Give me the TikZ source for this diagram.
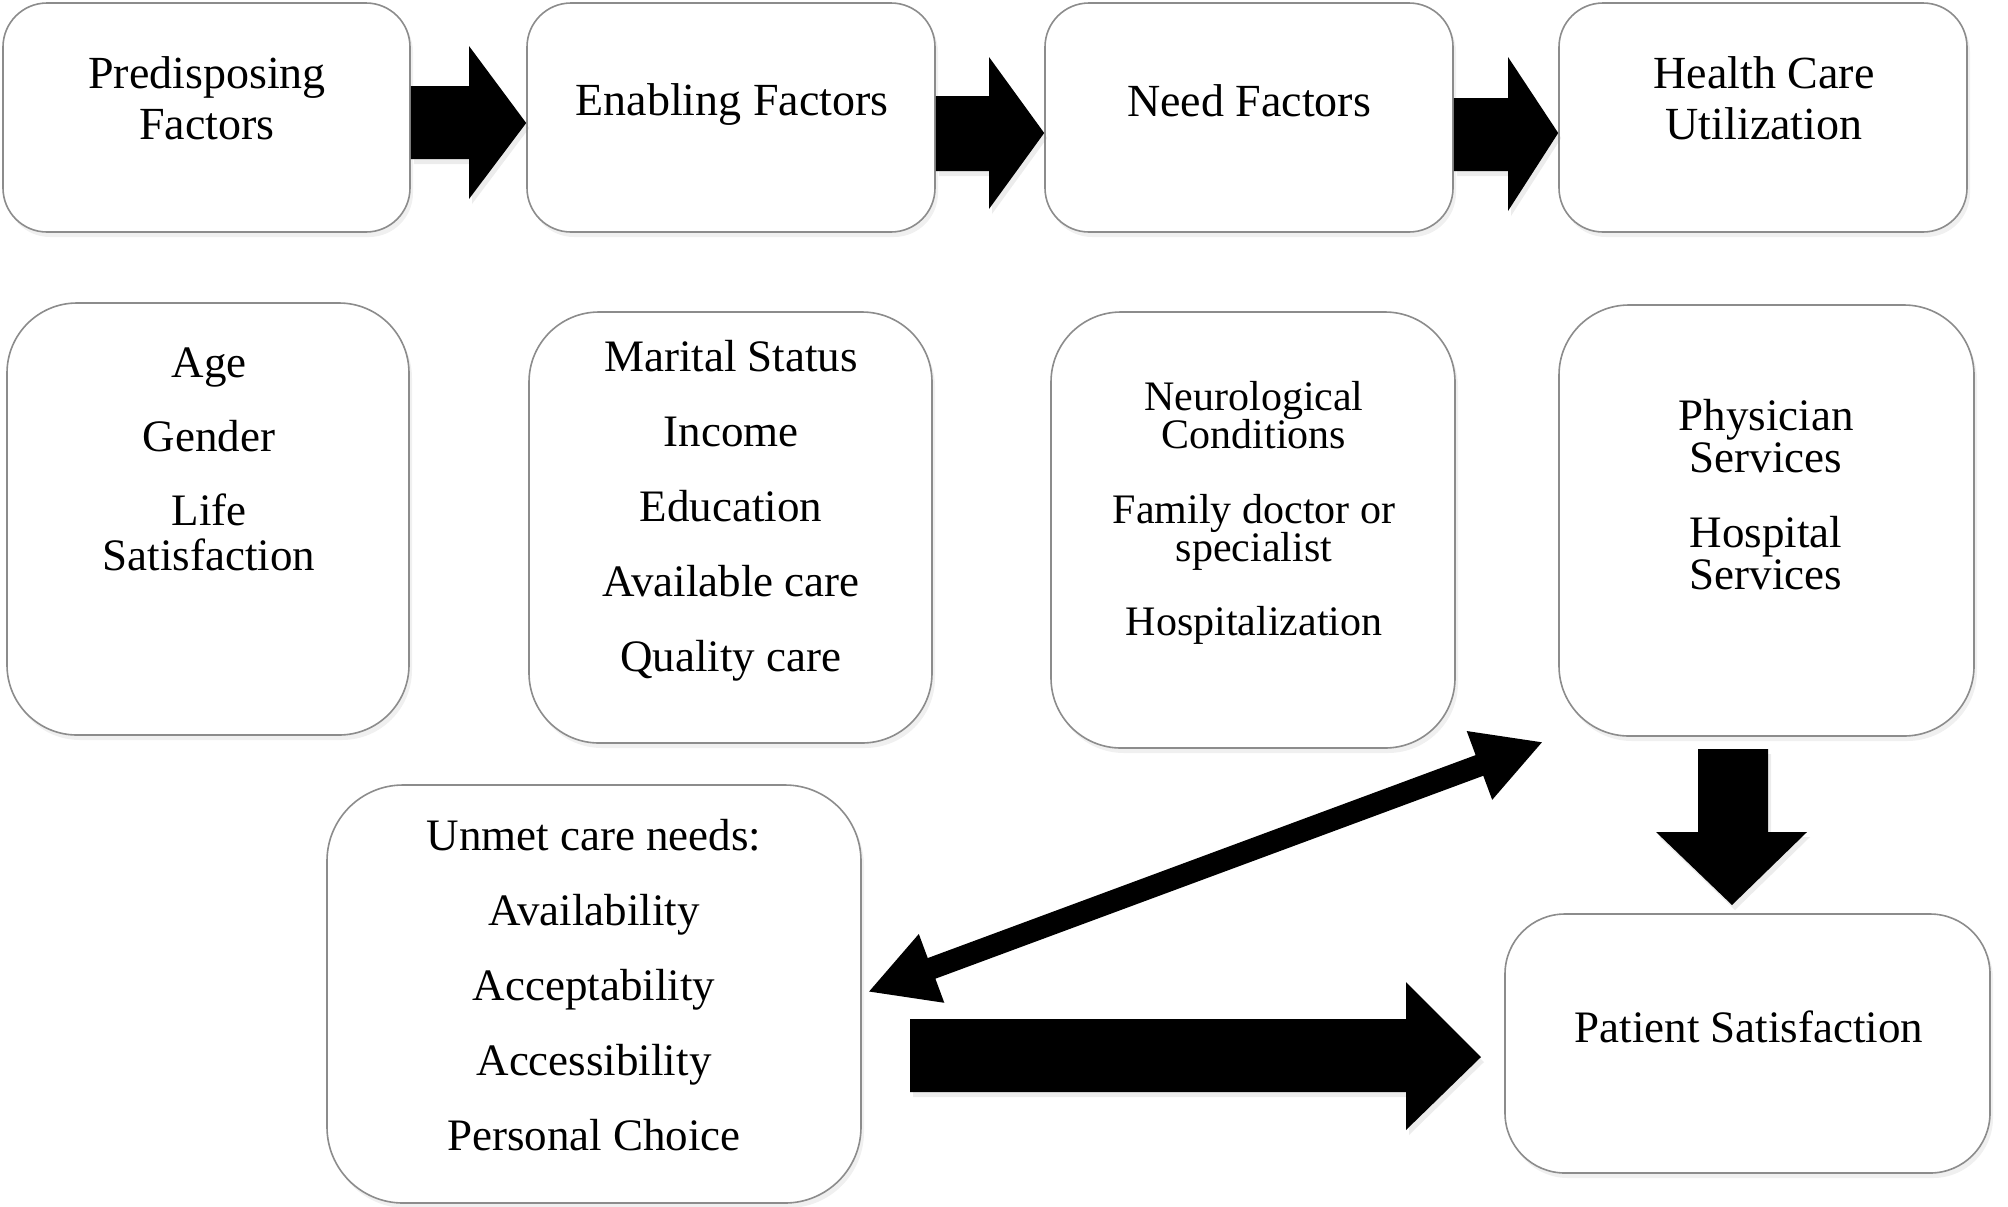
\documentclass[tikz,border=0pt]{standalone}
\usepackage{fontspec}
\setmainfont{Liberation Serif}
\usetikzlibrary{arrows.meta,shadows}
\setlength{\lineskiplimit}{-20pt}
\begin{document}
\begin{tikzpicture}[x=0.5pt,y=-0.5pt,
  box/.style={draw=black!45, line width=0.8pt, fill=white, rounded corners=#1,
    drop shadow={shadow xshift=1.5pt,shadow yshift=-2.5pt,opacity=0.12}},
  box/.default=22pt,
  lbltop/.style={anchor=north, inner sep=0pt, align=center, font=\fontsize{23pt}{25.5pt}\selectfont},
  lbl/.style={anchor=north, inner sep=0pt, align=center, font=\fontsize{22.5pt}{22.5pt}\selectfont},
  lbld/.style={anchor=north, inner sep=0pt, align=center, font=\fontsize{22.5pt}{21pt}\selectfont},
  lblsm/.style={anchor=north, inner sep=0pt, align=center, font=\fontsize{21pt}{19pt}\selectfont},
  blk/.style={fill=black, drop shadow={shadow xshift=1.5pt,shadow yshift=-2.5pt,opacity=0.15}},
  dbl/.style={{Triangle[length=34pt,width=34pt]}-{Triangle[length=34pt,width=34pt]}, line width=11pt}
]
\useasboundingbox (0,0) rectangle (2008,1206);

% top row
\node[box, minimum width=203.5pt, minimum height=114.5pt] (p1) at (206.5,117.5) {};
\node[box, minimum width=204pt, minimum height=114.5pt] (p2) at (731,117.5) {};
\node[box, minimum width=204pt, minimum height=114.5pt] (p3) at (1249,117.5) {};
\node[box, minimum width=204pt, minimum height=114.5pt] (p4) at (1763,117.5) {};
\node[lbltop] (p1t) at (207,56) {Predisposing\\Factors};
\node[lbltop] (p2t) at (732,83) {Enabling Factors};
\node[lbltop] (p3t) at (1249,84) {Need Factors};
\node[lbltop] (p4t) at (1764,56) {Health Care\\Utilization};

% second row
\node[box=35pt, minimum width=201pt, minimum height=216pt] (a) at (208,519) {};
\node[box=35pt, minimum width=201.5pt, minimum height=215.5pt] (b) at (730.5,527.5) {};
\node[box=35pt, minimum width=202pt, minimum height=218pt] (c) at (1253,530) {};
\node[box=35pt, minimum width=207.5pt, minimum height=215.5pt] (d) at (1766.5,520.5) {};
\node[lbl] (at) at (209,347) {Age\\[14.5pt]Gender\\[14.5pt]Life\\Satisfaction};
\node[lbl] (bt) at (731,340) {Marital Status\\[15pt]Income\\[15pt]Education\\[15pt]Available care\\[15pt]Quality care};
\node[lblsm] (ct) at (1254,381) {Neurological\\Conditions\\[18.25pt]Family doctor or\\specialist\\[18.25pt]Hospitalization};
\node[lbld] (dt) at (1766,399) {Physician\\Services\\[16.5pt]Hospital\\Services};

% bottom row
\node[box=38pt, minimum width=267pt, minimum height=209pt] (e) at (594,994) {};
\node[box=30pt, minimum width=242.5pt, minimum height=129.5pt] (f) at (1747.5,1043.5) {};
\node[lbl] (et) at (594,819) {Unmet care needs:\\[15pt]Availability\\[15pt]Acceptability\\[15pt]Accessibility\\[15pt]Personal Choice};
\node[lbl] (ft) at (1749,1010) {Patient Satisfaction};

% block arrows, top row
\fill[blk] (p1.east |- 0,86) -- (469,86) -- (469,46) -- (p2.west |- 0,123) -- (469,199) -- (469,159) -- (p1.east |- 0,159) -- cycle;
\fill[blk] (p2.east |- 0,96) -- (989,96) -- (989,57) -- (p3.west |- 0,133) -- (989,209) -- (989,171) -- (p2.east |- 0,171) -- cycle;
\fill[blk] (p3.east |- 0,98) -- (1508,98) -- (1508,57) -- (p4.west |- 0,133) -- (1508,211) -- (1508,171) -- (p3.east |- 0,171) -- cycle;

% down arrow d -> f
\fill[blk] (1698,749) -- (1768,749) -- (1768,832) -- (1807,832) -- (1732,905) -- (1656,832) -- (1698,832) -- cycle;

% right arrow e -> f
\fill[blk] (910,1019) -- (1406,1019) -- (1406,982) -- (1481,1057) -- (1406,1130) -- (1406,1092) -- (910,1092) -- cycle;

% double arrow e <-> d
\draw[dbl] ([xshift=3pt,yshift=1pt]e.east) -- ([xshift=-7.5pt,yshift=-2.5pt]d.south west);
\end{tikzpicture}
\end{document}
